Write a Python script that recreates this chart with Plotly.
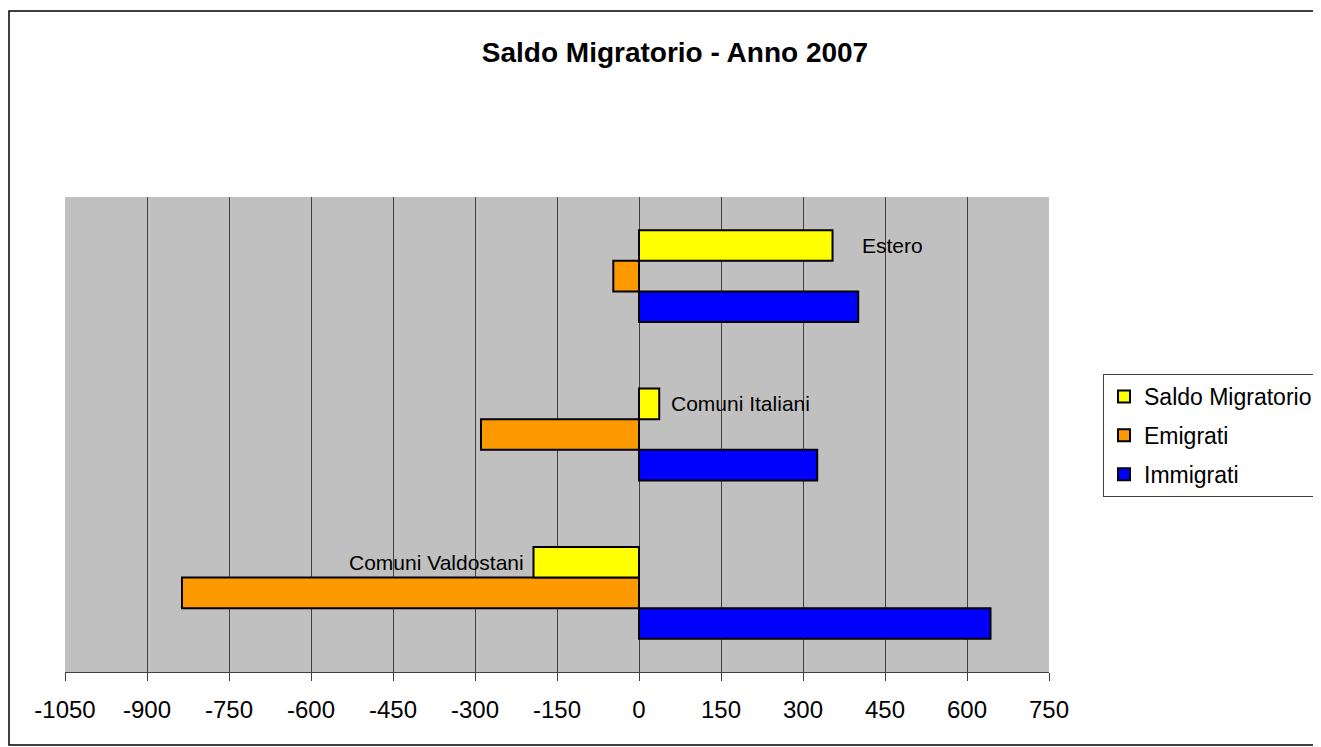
import plotly.graph_objects as go

categories = ["Comuni Valdostani", "Comuni Italiani", "Estero"]
immigrati = [643, 326, 401]
emigrati = [-836, -289, -47]
saldo = [-193, 37, 354]
tick_vals = [-1050, -900, -750, -600, -450, -300, -150, 0, 150, 300, 450, 600, 750]
tick_text = ["-1050", "-900", "-750", "-600", "-450", "-300", "-150", "0", "150", "300", "450", "600", "750"]
label_xshift = [-7, 10, 27]

FONT = "Liberation Sans, Arial, sans-serif"
OFF = 8  # page body margin
W, H = 1321 - OFF, 747 - OFF
ML, MT = 65 - OFF, 197 - OFF
PR, PB = 1049 - OFF, 672 - OFF
MR, MB = W - PR, H - PB
PW, PH = PR - ML, PB - MT
BARGAP = 0.42

fig = go.Figure()
line = dict(color="black", width=2)
fig.add_trace(go.Bar(name="Immigrati", y=categories, x=immigrati, orientation="h",
                     legendgroup="imm", legendrank=3, marker=dict(color="#0000FF", line=line)))
fig.add_trace(go.Bar(name="Emigrati", y=categories, x=emigrati, orientation="h",
                     legendgroup="emi", legendrank=2, marker=dict(color="#FF9900", line=line)))
fig.add_trace(go.Bar(name="Saldo Migratorio", y=categories, x=saldo, orientation="h",
                     legendgroup="sal", legendrank=1, marker=dict(color="#FFFF00", line=line)))

band = PH / len(categories)
bar_px = band * (1 - BARGAP) / 3
annotations = []
for c, v, dx in zip(categories, saldo, label_xshift):
    annotations.append(dict(x=v, y=c, xref="x", yref="y", text=c, showarrow=False,
                            xanchor="left" if v >= 0 else "right", yanchor="middle",
                            xshift=dx, yshift=bar_px,
                            font=dict(family=FONT, size=21, color="black")))

fig.update_layout(
    width=W, height=H,
    margin=dict(l=ML, r=MR, t=MT, b=MB, autoexpand=False),
    paper_bgcolor="white", plot_bgcolor="#C0C0C0",
    barmode="group", bargap=BARGAP, bargroupgap=0,
    font=dict(family=FONT, color="black"),
    title=dict(text="<b>Saldo Migratorio - Anno 2007</b>", x=(675 - OFF - ML) / PW, xref="paper",
               xanchor="center", y=1 - (52 - OFF) / H, yref="container", yanchor="middle",
               font=dict(family=FONT, size=28, color="black")),
    xaxis=dict(range=[-1050, 750], tickvals=tick_vals, ticktext=tick_text,
               showgrid=True, gridcolor="#404040", gridwidth=1, zeroline=False,
               showline=True, linecolor="#404040", linewidth=1,
               ticks="outside", ticklen=8, tickcolor="#404040", tickwidth=1,
               ticklabelstandoff=8,
               tickfont=dict(family=FONT, size=24, color="black")),
    yaxis=dict(showticklabels=False, showgrid=False, zeroline=False, showline=False,
               ticks=""),
    legend=dict(x=(1103 - OFF - ML) / PW, xanchor="left", y=(PB - (374 - OFF)) / PH, yanchor="top",
                traceorder="grouped", tracegroupgap=6, bgcolor="white",
                bordercolor="#404040", borderwidth=1,
                font=dict(family=FONT, size=23, color="black")),
    annotations=annotations,
    shapes=[dict(type="rect", xref="paper", yref="paper",
                 x0=(9 - OFF - ML) / PW, x1=(1340 - OFF - ML) / PW,
                 y0=(PB - (745 - OFF)) / PH, y1=(PB - (11 - OFF)) / PH,
                 line=dict(color="black", width=1.5), fillcolor="rgba(0,0,0,0)", layer="below")],
)

fig.write_html("out.html")
